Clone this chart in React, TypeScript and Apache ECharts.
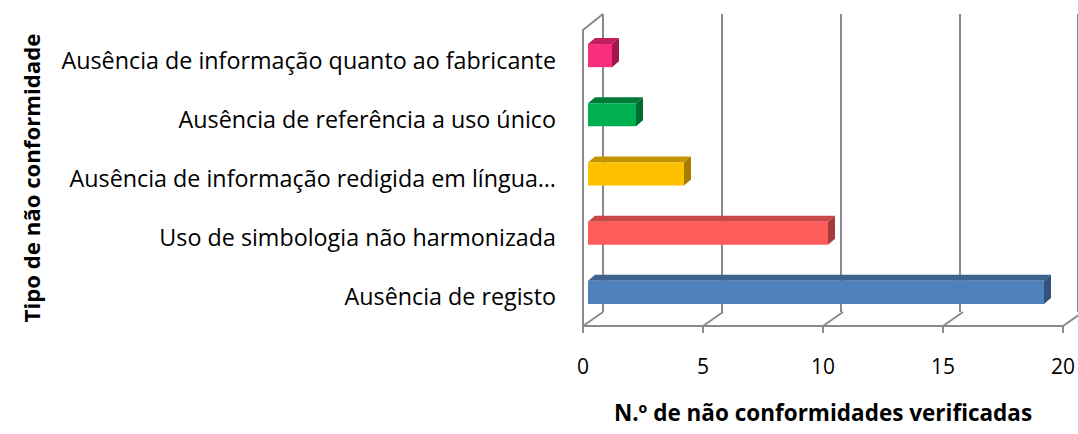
import React, { useEffect, useRef } from "react";
import * as echarts from "echarts";

const categories = [
  "Ausência de registo",
  "Uso de simbologia não harmonizada",
  "Ausência de informação redigida em língua…",
  "Ausência de referência a uso único",
  "Ausência de informação quanto ao fabricante",
];
const values = [19, 10, 4, 2, 1];
const frontColors = ["#4F81BD", "#FF5B5B", "#FFC000", "#00B050", "#F72E7C"];
const topColors = ["#3C6290", "#C84848", "#C49300", "#007A37", "#C01E5E"];
const sideColors = ["#34527A", "#A33B3B", "#A67C00", "#006B30", "#A0164F"];
const xTicks = [0, 5, 10, 15, 20];

const FONT = "Open Sans";
const GRAY = "#8A8A8A";

export default function App() {
  const ref = useRef<HTMLDivElement>(null);
  useEffect(() => {
    document.body.style.margin = "0";
    const chart = echarts.init(ref.current!, null, { renderer: "svg" });
    const option: any = {
      animation: false,
      backgroundColor: "#ffffff",
      grid: [
        { left: 583, top: 30, width: 485, height: 296 },
        { left: 603, top: 14, width: 485, height: 298 },
      ],
      xAxis: [
        {
          gridIndex: 0,
          type: "value",
          min: 0,
          max: 20,
          interval: 5,
          splitLine: { show: false },
          axisLine: { show: true, lineStyle: { color: GRAY, width: 2 } },
          axisTick: { show: true, length: 7, lineStyle: { color: GRAY, width: 2 } },
          axisLabel: { color: "#000", fontSize: 21, fontFamily: FONT, margin: 29 },
          name: "N.º de não conformidades verificadas",
          nameLocation: "middle",
          nameGap: 75,
          nameTextStyle: { color: "#000", fontSize: 22.5, fontWeight: "bold", fontFamily: FONT },
        },
        {
          gridIndex: 1,
          type: "value",
          min: 0,
          max: 20,
          interval: 5,
          axisLine: { show: false },
          axisTick: { show: false },
          axisLabel: { show: false },
          splitLine: { show: true, lineStyle: { color: GRAY, width: 2 } },
        },
      ],
      yAxis: [
        {
          gridIndex: 0,
          type: "category",
          data: categories,
          axisLine: { show: true, lineStyle: { color: GRAY, width: 2 } },
          axisTick: { show: false },
          axisLabel: { color: "#000", fontSize: 23.3, fontFamily: FONT, margin: 27 },
          name: "Tipo de não conformidade",
          nameLocation: "middle",
          nameRotate: 90,
          nameGap: 541,
          nameTextStyle: { color: "#000", fontSize: 22.2, fontWeight: "bold", fontFamily: FONT },
        },
        {
          gridIndex: 1,
          type: "value",
          min: 0,
          max: 1,
          show: false,
        },
      ],
      series: [
        {
          type: "custom",
          xAxisIndex: 0,
          yAxisIndex: 0,
          silent: true,
          z: 1,
          data: xTicks.map((t) => [t, 0]),
          renderItem: (params: any, api: any) => {
            const cs = params.coordSys;
            const v = api.value(0);
            const x = api.coord([v, 0])[0];
            const floor = cs.y + cs.height;
            const children: any[] = [
              {
                type: "line",
                shape: { x1: x, y1: floor, x2: x + 20, y2: floor - 14 },
                style: { stroke: GRAY, lineWidth: 2 },
              },
            ];
            if (v === 0) {
              children.push({
                type: "line",
                shape: { x1: x, y1: cs.y, x2: x + 20, y2: cs.y - 16 },
                style: { stroke: GRAY, lineWidth: 2 },
              });
            }
            return { type: "group", children };
          },
        },
        {
          type: "custom",
          xAxisIndex: 0,
          yAxisIndex: 0,
          z: 5,
          data: values.map((v, i) => [v, i]),
          encode: { x: 0, y: 1 },
          renderItem: (params: any, api: any) => {
            const v = api.value(0);
            const c = api.value(1);
            const idx = params.dataIndex;
            const p0 = api.coord([0, c]);
            const p1 = api.coord([v, c]);
            const bh = api.size([0, 1])[1] * 0.39;
            const dx = 7;
            const dy = 6;
            const x0 = p0[0] + 5;
            const x1 = p1[0] + 5;
            const yb = p1[1] - 4 + bh / 2;
            const yt = yb - bh;
            return {
              type: "group",
              children: [
                {
                  type: "polygon",
                  shape: { points: [[x0, yt], [x1, yt], [x1 + dx, yt - dy], [x0 + dx, yt - dy]] },
                  style: { fill: topColors[idx] },
                },
                {
                  type: "polygon",
                  shape: { points: [[x1, yt], [x1 + dx, yt - dy], [x1 + dx, yb - dy], [x1, yb]] },
                  style: { fill: sideColors[idx] },
                },
                {
                  type: "rect",
                  shape: { x: x0, y: yt, width: x1 - x0, height: bh },
                  style: { fill: frontColors[idx] },
                },
              ],
            };
          },
        },
      ],
    };
    chart.setOption(option);
    return () => chart.dispose();
  }, []);
  return <div ref={ref} style={{ width: 1078, height: 434 }} />;
}
